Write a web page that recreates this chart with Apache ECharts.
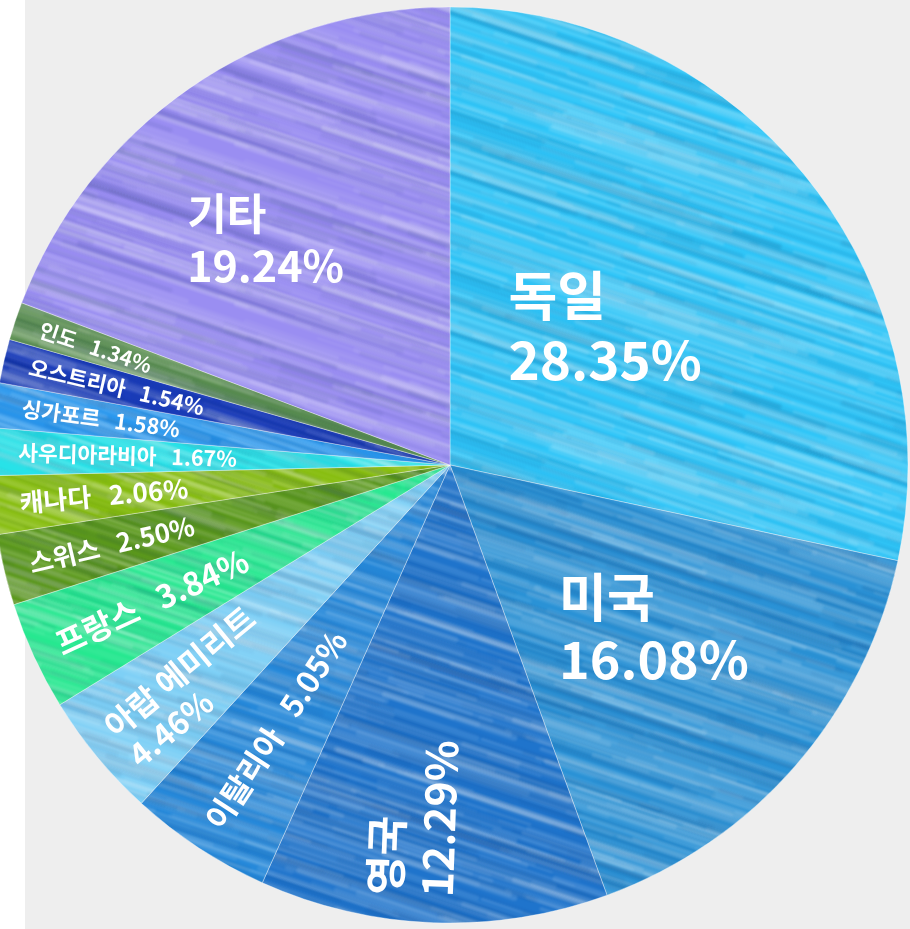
<!DOCTYPE html>
<html>
<head>
<meta charset="utf-8">
<script src="https://cdn.jsdelivr.net/npm/echarts@6/dist/echarts.min.js"></script>
<style>
html, body { margin: 0; padding: 0; }
#piechart { width: 910px; height: 929px; background: linear-gradient(to right, #ffffff 25px, #eeeeee 25px); }
</style>
</head>
<body>
<div id="piechart"></div>
<script>
// data
var countries = ['독일', '미국', '영국', '이탈리아', '아랍 에미리트', '프랑스', '스위스', '캐나다', '사우디아라비아', '싱가포르', '오스트리아', '인도', '기타'];
var shares = [28.35, 16.08, 12.29, 5.05, 4.46, 3.84, 2.50, 2.06, 1.67, 1.58, 1.54, 1.34, 19.24];

// look
var sliceColors = ['#30c6f8', '#2a92d6', '#1f74cc', '#2689da', '#7ed0f6', '#26e890', '#5c9a1c', '#88be10', '#28e2e8', '#2a98ee', '#1a3cba', '#5b9050', '#9a8ef2'];
var labelSizes = [53, 52, 43, 31, 32, 32, 26, 26, 21.5, 21.5, 21.5, 21, 43];
var twoLines = [true, true, true, false, true, false, false, false, false, false, false, false, true];
var flatLabel = [true, true, false, false, false, false, false, false, false, false, false, false, true];
var labelRadius = [207, 261, 432, 432, 432, 432, 432, 432, 432, 432, 432, 432, 291];
var labelTurn = [-2.5, -2.4, 0, 0, 0, 0, 0, 0, 0, 0, 0, 0, -4.7];
var labelNudge = [0, 0, -24, 0, 6, 0, 0, 0, 0, 0, 0, 0, 0];

var CX = 450, CY = 465, R = 458;

// mid angle of every slice, degrees clockwise from 12 o'clock
var total = shares.reduce(function (a, b) { return a + b; }, 0);
var midAngles = [];
var acc = 0;
shares.forEach(function (v) {
    midAngles.push((acc + v / 2) / total * 360);
    acc += v;
});

function hash(n) {
    var s = Math.sin(n * 127.1 + 311.7) * 43758.5453;
    return s - Math.floor(s);
}

// soft brush-stroke fill, tile wraps because slope is 1/3
function streakTexture(base, seed) {
    var W = 480, H = 160;
    var c = document.createElement('canvas');
    c.width = W; c.height = H;
    var g = c.getContext('2d');
    g.fillStyle = base;
    g.fillRect(0, 0, W, H);
    g.lineCap = 'round';
    g.filter = 'blur(1.2px)';
    for (var i = 0; i < 180; i++) {
        var k = seed * 997 + i * 1.37;
        var x0 = hash(k) * W, y0 = hash(k + 0.37) * H;
        var len = 120 + hash(k + 0.71) * 300;
        var light = hash(k + 0.13) > 0.4;
        var a = light ? 0.04 + hash(k + 0.53) * 0.10 : 0.02 + hash(k + 0.53) * 0.05;
        g.strokeStyle = light ? 'rgba(255,255,255,' + a + ')' : 'rgba(0,30,90,' + a + ')';
        g.lineWidth = 2 + hash(k + 0.91) * 4;
        for (var ox = -1; ox <= 1; ox++) {
            for (var oy = -1; oy <= 1; oy++) {
                g.beginPath();
                g.moveTo(x0 + ox * W, y0 + oy * H);
                g.lineTo(x0 + len + ox * W, y0 + len / 3 + oy * H);
                g.stroke();
            }
        }
    }
    return c;
}

var pieData = countries.map(function (name, i) {
    return {
        name: name,
        value: shares[i],
        itemStyle: { color: { image: streakTexture(sliceColors[i], i + 1), repeat: 'repeat' } },
        label: { fontSize: labelSizes[i], lineHeight: Math.round(labelSizes[i] * 1.2) }
    };
});

var myChart = echarts.init(document.getElementById('piechart'));

var option = {
    animation: false,
    series: [{
        type: 'pie',
        center: [CX, CY],
        radius: R,
        startAngle: 90,
        clockwise: true,
        avoidLabelOverlap: false,
        itemStyle: {
            borderColor: 'rgba(255,255,255,0.35)',
            borderWidth: 1
        },
        label: {
            show: true,
            position: 'inside',
            color: '#ffffff',
            fontFamily: 'Noto Sans CJK KR',
            fontWeight: 'bold',
            formatter: function (p) {
                var pct = p.percent.toFixed(2) + '%';
                return twoLines[p.dataIndex] ? p.name + '\n' + pct : p.name + '   ' + pct;
            }
        },
        labelLine: { show: false },
        emphasis: { disabled: true },
        labelLayout: function (p) {
            var i = p.dataIndex;
            var rad = midAngles[i] * Math.PI / 180;
            var sx = Math.sin(rad), sy = -Math.cos(rad);
            var r = labelRadius[i];
            if (flatLabel[i]) {
                var t = (midAngles[i] + labelTurn[i]) * Math.PI / 180;
                return {
                    x: CX + r * Math.sin(t) - p.labelRect.width / 2,
                    y: CY - r * Math.cos(t),
                    align: 'left',
                    verticalAlign: 'middle',
                    rotate: 0
                };
            }
            // read from the rim towards the centre
            var rot = Math.atan2(sy, -sx);
            var n = labelNudge[i];
            return {
                x: CX + r * sx + n * Math.sin(rot),
                y: CY + r * sy + n * Math.cos(rot),
                align: 'left',
                verticalAlign: 'middle',
                rotate: rot * 180 / Math.PI
            };
        },
        data: pieData
    }]
};

myChart.setOption(option);
</script>
</body>
</html>
